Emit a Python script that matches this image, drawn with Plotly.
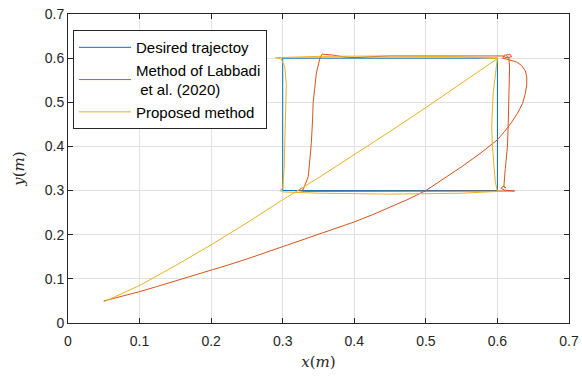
import plotly.graph_objects as go

# Desired trajectory (rectangle)
des_x = [0.6, 0.3, 0.3, 0.6, 0.6]
des_y = [0.6, 0.6, 0.3, 0.3, 0.6]

# Method of Labbadi et al. (2020)
lab_x = [0.05, 0.075, 0.1, 0.125, 0.15, 0.175, 0.2, 0.225, 0.25, 0.275, 0.3, 0.325, 0.35, 0.375, 0.4, 0.425,
         0.45, 0.475, 0.5, 0.525, 0.55, 0.575, 0.6, 0.61, 0.62, 0.628, 0.635, 0.639, 0.641, 0.641, 0.639, 0.634,
         0.627, 0.619, 0.612,
         0.607, 0.61, 0.618, 0.62, 0.612, 0.608, 0.58, 0.5, 0.45, 0.42, 0.4, 0.385, 0.37, 0.355,
         0.352, 0.347, 0.3426, 0.3417, 0.34, 0.3357, 0.3286, 0.326, 0.322, 0.33, 0.4, 0.5, 0.6, 0.624, 0.61,
         0.605, 0.608, 0.612, 0.609, 0.611, 0.614, 0.615, 0.616, 0.617, 0.617, 0.616, 0.612]
lab_y = [0.05, 0.06, 0.071, 0.083, 0.095, 0.107, 0.119, 0.132, 0.145, 0.159, 0.173, 0.186, 0.2, 0.214, 0.229, 0.245,
         0.262, 0.28, 0.3, 0.326, 0.354, 0.383, 0.415, 0.434, 0.455, 0.475, 0.497, 0.52, 0.54, 0.557, 0.571, 0.583,
         0.591, 0.595, 0.597,
         0.6, 0.607, 0.608, 0.603, 0.601, 0.605, 0.605, 0.605, 0.605, 0.603, 0.601, 0.603, 0.607, 0.609,
         0.6, 0.566, 0.5, 0.46, 0.407, 0.332, 0.302, 0.305, 0.3, 0.298, 0.298, 0.298, 0.298, 0.299, 0.301,
         0.305, 0.31, 0.306, 0.309, 0.35, 0.4, 0.445, 0.5, 0.55, 0.58, 0.6, 0.606]

# Proposed method
pro_x = [0.05, 0.075, 0.1, 0.15, 0.2, 0.25, 0.3, 0.35, 0.4, 0.45, 0.5, 0.55, 0.6,
         0.55, 0.45, 0.35, 0.3, 0.29,
         0.298, 0.303, 0.305, 0.304, 0.302, 0.3, 0.296,
         0.3, 0.35, 0.45, 0.55, 0.6,
         0.597, 0.593, 0.592, 0.594, 0.598, 0.6]
pro_y = [0.048, 0.066, 0.085, 0.13, 0.177, 0.227, 0.279, 0.329, 0.381, 0.434, 0.488, 0.543, 0.599,
         0.603, 0.605, 0.604, 0.602, 0.601,
         0.598, 0.58, 0.54, 0.45, 0.35, 0.305, 0.3,
         0.297, 0.294, 0.292, 0.294, 0.298,
         0.32, 0.4, 0.445, 0.52, 0.58, 0.6]

ticks = [0, 0.1, 0.2, 0.3, 0.4, 0.5, 0.6, 0.7]
tick_text = ["0", "0.1", "0.2", "0.3", "0.4", "0.5", "0.6", "0.7"]

fig = go.Figure()
fig.add_trace(go.Scatter(x=des_x, y=des_y, mode="lines", name="Desired trajectoy",
                         line=dict(color="#0072BD", width=1)))
fig.add_trace(go.Scatter(x=lab_x, y=lab_y, mode="lines", name="Method of Labbadi<br> et al. (2020)",
                         line=dict(color="#D95319", width=1)))
fig.add_trace(go.Scatter(x=pro_x, y=pro_y, mode="lines", name="Proposed method",
                         line=dict(color="#EDB120", width=1)))

axis_common = dict(
    showgrid=True, gridcolor="#e2e2e2", gridwidth=1,
    showline=True, linecolor="#262626", linewidth=1, mirror="ticks",
    ticks="inside", ticklen=5, tickcolor="#262626",
    tickfont=dict(family="Liberation Sans, Arial, sans-serif", size=14, color="#262626"),
    zeroline=False, automargin=False,
    tickvals=ticks, ticktext=tick_text,
)

fig.update_xaxes(range=[0, 0.7], **axis_common, ticklabelstandoff=5,
                 title=dict(text="<i>x</i>(<i>m</i>)", standoff=8,
                            font=dict(family="DejaVu Serif, Liberation Serif, serif", size=15, color="#262626")))
fig.update_yaxes(range=[0, 0.7], **axis_common,
                 title=dict(text="<i>y</i>(<i>m</i>)", standoff=16,
                            font=dict(family="DejaVu Serif, Liberation Serif, serif", size=15, color="#262626")))

fig.update_layout(
    width=582, height=377,
    margin=dict(l=68, r=13, t=14, b=54),
    paper_bgcolor="white", plot_bgcolor="white",
    showlegend=True,
    legend=dict(x=0.01, y=0.948, xanchor="left", yanchor="top",
                bgcolor="white", bordercolor="#262626", borderwidth=1,
                font=dict(family="Liberation Sans, Arial, sans-serif", size=15, color="black"),
                itemwidth=52, tracegroupgap=0),
)

fig.write_html("out.html")
